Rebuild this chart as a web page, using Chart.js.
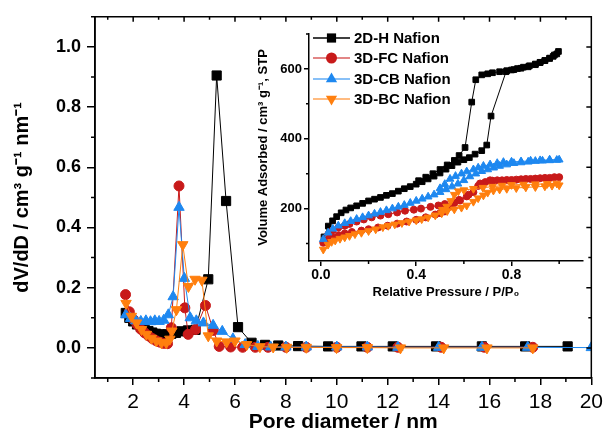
<!DOCTYPE html>
<html>
<head>
<meta charset="utf-8">
<script src="https://cdn.jsdelivr.net/npm/chart.js@4.4.1/dist/chart.umd.min.js"></script>
<style>
  html, body { margin: 0; padding: 0; background: #fff; }
  #wrap { position: relative; width: 608px; height: 435px; }
  #main { position: absolute; left: 0; top: 0; }
  #inset { position: absolute; left: 250px; top: 20px; }
</style>
</head>
<body>
<div id="wrap">
  <canvas id="main" width="608" height="435"></canvas>
  <canvas id="inset" width="345" height="290"></canvas>
</div>
<script>
const FONT = "'Liberation Sans', Arial, sans-serif";

// pore size distribution, dV/dD vs pore diameter (nm)
const hX = [1.71, 1.85, 2.0, 2.15, 2.3, 2.45, 2.6, 2.75, 2.9, 3.05, 3.2, 3.35, 3.5, 3.68, 3.9, 4.15, 4.45, 4.95, 5.28, 5.65, 6.12, 6.65, 7.18, 7.7, 8.48, 9.66, 10.97, 12.2, 13.9, 15.7, 17.4, 19.07];
const hY = [0.116, 0.1, 0.088, 0.078, 0.07, 0.062, 0.056, 0.051, 0.047, 0.045, 0.044, 0.045, 0.047, 0.05, 0.055, 0.058, 0.06, 0.228, 0.905, 0.488, 0.069, 0.017, 0.01, 0.008, 0.006, 0.005, 0.005, 0.005, 0.005, 0.005, 0.005, 0.005];

const fcX = [1.7, 1.85, 2.0, 2.15, 2.3, 2.45, 2.6, 2.75, 2.9, 3.05, 3.2, 3.35, 3.5, 3.8, 4.03, 4.16, 4.45, 4.84, 5.15, 5.38, 5.83, 6.3, 6.8, 7.3, 8.0, 8.8, 10.0, 11.2, 12.4, 14.1, 15.8, 17.7];
const fcY = [0.177, 0.12, 0.095, 0.078, 0.062, 0.05, 0.04, 0.031, 0.024, 0.019, 0.015, 0.014, 0.067, 0.538, 0.133, 0.045, 0.061, 0.141, 0.058, 0.005, 0.003, 0.002, 0.002, 0.002, 0.002, 0.002, 0.002, 0.002, 0.002, 0.002, 0.002, 0.002];

const cbX = [1.71, 1.9, 2.1, 2.3, 2.5, 2.68, 2.85, 3.02, 3.2, 3.38, 3.57, 3.8, 4.01, 4.24, 4.48, 4.76, 5.14, 5.5, 5.92, 6.4, 6.9, 7.4, 8.0, 8.8, 10.0, 11.2, 12.4, 14.0, 15.7, 17.5, 20];
const cbY = [0.11, 0.098, 0.09, 0.088, 0.09, 0.087, 0.09, 0.088, 0.092, 0.11, 0.17, 0.467, 0.231, 0.1, 0.09, 0.083, 0.075, 0.055, 0.03, 0.011, 0.005, 0.003, 0.003, 0.003, 0.003, 0.003, 0.002, 0.002, 0.002, 0.002, 0.001];

const bcX = [1.72, 1.93, 2.13, 2.33, 2.52, 2.72, 2.91, 3.11, 3.3, 3.44, 3.52, 3.7, 3.95, 4.17, 4.43, 4.7, 4.95, 5.28, 5.67, 6.0, 6.46, 6.98, 7.5, 8.03, 8.8, 9.99, 11.2, 12.5, 14.2, 15.9, 17.7];
const bcY = [0.148, 0.105, 0.083, 0.061, 0.045, 0.032, 0.023, 0.017, 0.017, 0.029, 0.056, 0.127, 0.343, 0.204, 0.228, 0.225, 0.04, 0.023, 0.02, 0.023, 0.011, 0.004, 0.003, 0.002, 0.002, 0.001, 0.001, 0, 0, 0, 0];

// N2 isotherms (inset), volume adsorbed vs P/P0 — adsorption then desorption
const hIsoX = [0.013, 0.031, 0.049, 0.066, 0.085, 0.105, 0.125, 0.15, 0.175, 0.2, 0.225, 0.25, 0.275, 0.3, 0.325, 0.35, 0.375, 0.4, 0.425, 0.45, 0.475, 0.5, 0.525, 0.55, 0.575, 0.6, 0.623, 0.647, 0.675, 0.696, 0.714, 0.777, 0.8, 0.825, 0.85, 0.875, 0.9, 0.92, 0.94, 0.96, 0.975, 0.99, 0.997,
                0.98, 0.96, 0.94, 0.92, 0.9, 0.87, 0.84, 0.81, 0.78, 0.75, 0.72, 0.7, 0.675, 0.65, 0.633, 0.605, 0.58, 0.56, 0.53, 0.5, 0.47, 0.44, 0.41];
const hIsoY = [119, 150, 165, 177, 188, 196, 202, 208, 215, 222, 227, 232, 238, 243, 250, 257, 263, 270, 277, 285, 293, 302, 313, 323, 333, 340, 346, 356, 366, 382, 465, 592, 597, 601, 605, 609, 614, 619, 624, 630, 636, 643, 650,
                640, 631, 624, 618, 612, 606, 602, 598, 595, 592, 589, 586, 583, 569, 505, 375, 352, 338, 325, 312, 300, 290, 280];

const fcIsoX = [0.01, 0.03, 0.05, 0.075, 0.1, 0.13, 0.17, 0.2, 0.24, 0.28, 0.32, 0.36, 0.4, 0.44, 0.48, 0.5, 0.52, 0.54, 0.56, 0.584, 0.612, 0.64, 0.66, 0.69, 0.72, 0.76, 0.8, 0.84, 0.88, 0.92, 0.96, 1.0,
                 0.98, 0.94, 0.9, 0.86, 0.82, 0.78, 0.74, 0.71, 0.668, 0.62, 0.58, 0.556, 0.52, 0.493, 0.46, 0.42, 0.39, 0.353, 0.32, 0.283, 0.25, 0.213, 0.18, 0.15, 0.12, 0.1, 0.073, 0.05, 0.03];
const fcIsoY = [102, 110, 118, 124, 129, 133, 137, 141, 146, 151, 157, 163, 168, 175, 183, 187, 192, 206, 216, 223, 235, 247, 265, 276, 280, 281, 282, 284, 285, 287, 288, 290,
                 290, 288, 286, 285, 283, 282, 281, 281, 272, 240, 225, 218, 213, 209, 205, 200, 197, 194, 189, 184, 180, 175, 169, 163, 156, 151, 146, 138, 125];

const cbIsoX = [0.01, 0.03, 0.05, 0.073, 0.1, 0.125, 0.15, 0.175, 0.2, 0.225, 0.25, 0.275, 0.3, 0.325, 0.35, 0.375, 0.4, 0.425, 0.45, 0.475, 0.5, 0.525, 0.55, 0.575, 0.6, 0.625, 0.65, 0.675, 0.7, 0.725, 0.75, 0.78, 0.81, 0.84, 0.87, 0.9, 0.93, 0.96, 0.99, 1.0,
                 0.96, 0.92, 0.88, 0.84, 0.8, 0.766, 0.74, 0.71, 0.682, 0.66, 0.64, 0.612, 0.59, 0.565, 0.542, 0.52, 0.5];
const cbIsoY = [112, 131, 142, 151, 158, 164, 170, 175, 180, 185, 190, 195, 200, 205, 210, 216, 222, 228, 234, 240, 247, 255, 263, 271, 281, 292, 300, 307, 312, 317, 322, 326, 330, 332, 334, 336, 337, 338, 339, 340,
                 340, 338, 337, 335, 334, 333, 330, 326, 322, 317, 312, 306, 300, 293, 285, 270, 258];

const bcIsoX = [0.01, 0.03, 0.045, 0.06, 0.08, 0.1, 0.12, 0.143, 0.17, 0.2, 0.23, 0.26, 0.283, 0.31, 0.34, 0.37, 0.4, 0.423, 0.45, 0.48, 0.507, 0.53, 0.56, 0.59, 0.612, 0.64, 0.66, 0.682, 0.7, 0.724, 0.75, 0.78, 0.82, 0.86, 0.9, 0.94, 0.97, 1.0,
                 0.99, 0.95, 0.9, 0.85, 0.8, 0.76, 0.72, 0.68, 0.64, 0.6, 0.577, 0.56, 0.545, 0.528, 0.51];
const bcIsoY = [83, 97, 105, 109, 114, 118, 122, 127, 131, 136, 141, 147, 151, 155, 159, 163, 167, 170, 175, 181, 187, 193, 198, 203, 209, 220, 230, 238, 246, 252, 255, 257, 259, 261, 262, 264, 266, 267,
                 272, 271, 270, 269, 268, 266, 263, 260, 257, 253, 250, 240, 222, 206, 197];

const seriesNames = ['2D-H Nafion', '3D-FC Nafion', '3D-CB Nafion', '3D-BC Nafion'];
const colors = ['#000000', '#c81a1a', '#1e88f0', '#ff7f0e'];
const styles = ['rect', 'circle', 'triangle', 'triangle'];
const rotations = [0, 0, 0, 180];
const drawOrder = [3, 2, 1, 0];

const mainXTicks = [2, 4, 6, 8, 10, 12, 14, 16, 18, 20];
const mainXMinor = [1, 3, 5, 7, 9, 11, 13, 15, 17, 19];
const mainYTicks = [0, 0.2, 0.4, 0.6, 0.8, 1.0];
const mainYMinor = [-0.1, 0.1, 0.3, 0.5, 0.7, 0.9, 1.1];
const insetXTicks = [0, 0.4, 0.8];
const insetXMinor = [0.2, 0.6, 1.0];
const insetYTicks = [200, 400, 600];
const insetYMinor = [100, 300, 500, 700];

function pts(xs, ys) { return xs.map((x, i) => ({ x: x, y: ys[i] })); }

function makeSets(pairs, radii) {
  return pairs.map((p, i) => ({
    label: seriesNames[i],
    data: pts(p[0], p[1]),
    showLine: true,
    borderColor: colors[i],
    backgroundColor: colors[i],
    borderWidth: 1,
    pointStyle: styles[i],
    pointRotation: rotations[i],
    pointRadius: radii[i],
    pointBorderWidth: 1,
    pointBorderColor: colors[i],
    pointBackgroundColor: colors[i],
    order: drawOrder[i]
  }));
}

// ticks drawn by hand: minor ticks and mirrored ticks on the frame
function tickPlugin(cfg) {
  return {
    id: 'ticks_' + cfg.name,
    afterDraw(chart) {
      const { ctx, chartArea: a, scales: { x, y } } = chart;
      ctx.save();
      ctx.strokeStyle = '#000';
      ctx.lineWidth = 1.5;
      ctx.beginPath();
      cfg.xMinor.forEach(v => {
        const px = x.getPixelForValue(v);
        ctx.moveTo(px, a.bottom); ctx.lineTo(px, a.bottom + cfg.minorOut);
      });
      cfg.yMinor.forEach(v => {
        const py = y.getPixelForValue(v);
        ctx.moveTo(a.left, py); ctx.lineTo(a.left - cfg.minorOut, py);
      });
      if (cfg.box) {
        ctx.rect(a.left, a.top, a.right - a.left, a.bottom - a.top);
        cfg.xMajor.forEach(v => {
          const px = x.getPixelForValue(v);
          ctx.moveTo(px, a.top); ctx.lineTo(px, a.top + 5);
        });
        cfg.xMinor.forEach(v => {
          const px = x.getPixelForValue(v);
          ctx.moveTo(px, a.top); ctx.lineTo(px, a.top + 3);
        });
        cfg.yMajor.forEach(v => {
          const py = y.getPixelForValue(v);
          ctx.moveTo(a.right, py); ctx.lineTo(a.right - 5, py);
        });
        cfg.yMinor.forEach(v => {
          const py = y.getPixelForValue(v);
          ctx.moveTo(a.right, py); ctx.lineTo(a.right - 3, py);
        });
      }
      ctx.stroke();
      ctx.restore();
    }
  };
}

function marker(ctx, style, rot, x, y, r) {
  ctx.beginPath();
  if (style === 'rect') {
    const s = r * Math.SQRT1_2;
    ctx.rect(x - s, y - s, 2 * s, 2 * s);
  } else if (style === 'circle') {
    ctx.arc(x, y, r, 0, Math.PI * 2);
  } else {
    let rad = rot * Math.PI / 180;
    ctx.moveTo(x + Math.sin(rad) * r, y - Math.cos(rad) * r);
    rad += 2 * Math.PI / 3;
    ctx.lineTo(x + Math.sin(rad) * r, y - Math.cos(rad) * r);
    rad += 2 * Math.PI / 3;
    ctx.lineTo(x + Math.sin(rad) * r, y - Math.cos(rad) * r);
    ctx.closePath();
  }
  ctx.fill();
}

const legendPlugin = {
  id: 'isoLegend',
  afterDraw(chart) {
    const ctx = chart.ctx;
    const rows = [18, 38, 59, 79];
    const legR = [6.5, 5.5, 6.5, 6.5];
    ctx.save();
    ctx.font = 'bold 15px ' + FONT;
    ctx.textBaseline = 'middle';
    seriesNames.forEach((name, i) => {
      const yy = rows[i];
      ctx.strokeStyle = colors[i];
      ctx.globalAlpha = i === 0 ? 1 : 0.7;
      ctx.lineWidth = 1.5;
      ctx.beginPath(); ctx.moveTo(63, yy); ctx.lineTo(100, yy); ctx.stroke();
      ctx.globalAlpha = 1;
      ctx.fillStyle = colors[i];
      marker(ctx, styles[i], rotations[i], 81.5, yy, legR[i]);
      ctx.fillStyle = '#000';
      ctx.fillText(name, 104, yy + 1);
    });
    ctx.restore();
  }
};

function axis(opts) {
  return {
    type: 'linear',
    min: opts.min,
    max: opts.max,
    afterBuildTicks: s => { s.ticks = opts.ticks.map(v => ({ value: v })); },
    afterFit: opts.fit,
    ticks: {
      color: '#000',
      font: { family: FONT, size: opts.tickSize, weight: opts.tickWeight },
      padding: opts.tickPad,
      maxRotation: 0,
      autoSkip: false,
      callback: opts.fmt
    },
    grid: { display: true, drawOnChartArea: false, drawTicks: true, tickLength: opts.tickLen, color: '#000', lineWidth: 1.5 },
    border: { display: true, color: '#000', width: 1.5 },
    title: {
      display: true,
      text: opts.title,
      color: '#000',
      font: { family: FONT, size: opts.titleSize, weight: 'bold' },
      padding: opts.titlePad
    }
  };
}

new Chart(document.getElementById('main'), {
  type: 'scatter',
  data: {
    datasets: makeSets([[hX, hY], [fcX, fcY], [cbX, cbY], [bcX, bcY]], [6.5, 5, 6, 6])
  },
  options: {
    responsive: false,
    animation: false,
    devicePixelRatio: 1,
    layout: { padding: { top: 12, right: 16, left: 0, bottom: 0 } },
    plugins: { legend: { display: false }, tooltip: { enabled: false } },
    scales: {
      x: axis({ min: 0.5, max: 20, ticks: mainXTicks, fit: s => { s.height = 57; },
        tickSize: 21, tickWeight: 'normal', tickPad: 5, tickLen: 7, fmt: v => String(v),
        title: 'Pore diameter / nm', titleSize: 21, titlePad: { top: 0, bottom: 0 } }),
      y: axis({ min: -0.1, max: 1.1, ticks: mainYTicks, fit: s => { s.width = 95; },
        tickSize: 18, tickWeight: 'bold', tickPad: 6, tickLen: 8, fmt: v => v.toFixed(1),
        title: 'dV/dD / cm\u00B3 g\u207B\u00B9 nm\u207B\u00B9', titleSize: 20, titlePad: { top: 10, bottom: 0 } })
    }
  },
  plugins: [tickPlugin({ name: 'main', box: true, minorOut: 4, xMajor: mainXTicks, xMinor: mainXMinor, yMajor: mainYTicks, yMinor: mainYMinor })]
});

new Chart(document.getElementById('inset'), {
  type: 'scatter',
  data: {
    datasets: makeSets([[hIsoX, hIsoY], [fcIsoX, fcIsoY], [cbIsoX, cbIsoY], [bcIsoX, bcIsoY]], [4, 3.5, 4.5, 4.5])
  },
  options: {
    responsive: false,
    animation: false,
    devicePixelRatio: 1,
    layout: { padding: { top: 14, right: 12, left: 0, bottom: 0 } },
    plugins: { legend: { display: false }, tooltip: { enabled: false } },
    scales: {
      x: axis({ min: -0.05, max: 1.1, ticks: insetXTicks, fit: s => { s.height = 49; },
        tickSize: 14, tickWeight: 'bold', tickPad: 1, tickLen: 5, fmt: v => v.toFixed(1),
        title: 'Relative Pressure / P/P\u2080', titleSize: 13, titlePad: { top: 0, bottom: 10 } }),
      y: axis({ min: 50, max: 700, ticks: insetYTicks, fit: s => { s.width = 59; },
        tickSize: 13, tickWeight: 'bold', tickPad: 2, tickLen: 5, fmt: v => String(v),
        title: 'Volume Adsorbed / cm\u00B3 g\u207B\u00B9, STP', titleSize: 13, titlePad: { top: 6, bottom: 0 } })
    }
  },
  plugins: [tickPlugin({ name: 'inset', box: false, minorOut: 3, xMajor: insetXTicks, xMinor: insetXMinor, yMajor: insetYTicks, yMinor: insetYMinor }), legendPlugin]
});
</script>
</body>
</html>
